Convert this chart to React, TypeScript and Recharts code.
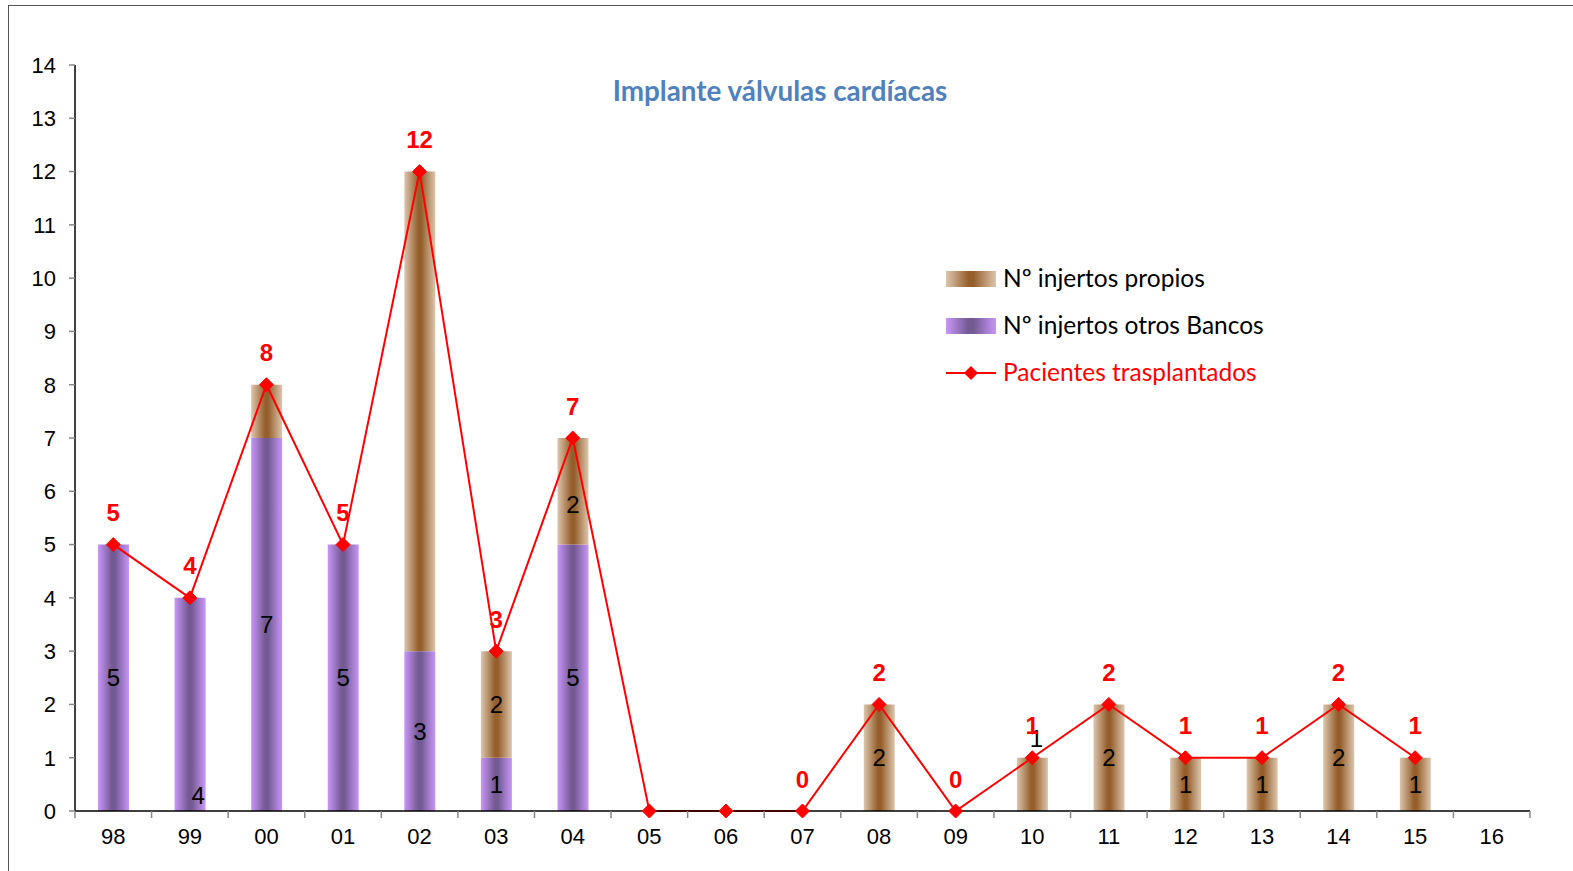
import React from 'react';
import {
  ComposedChart,
  Bar,
  Line,
  XAxis,
  YAxis,
  Legend,
  LabelList,
} from 'recharts';

const years = ['98', '99', '00', '01', '02', '03', '04', '05', '06', '07', '08', '09', '10', '11', '12', '13', '14', '15', '16'];
const otrosBancos = [5, 4, 7, 5, 3, 1, 5, 0, 0, 0, 0, 0, 0, 0, 0, 0, 0, 0, null];
const propios = [0, 0, 1, 0, 9, 2, 2, 0, 0, 0, 2, 0, 1, 2, 1, 1, 2, 1, null];
const pacientes = [5, 4, 8, 5, 12, 3, 7, 0, 0, 0, 2, 0, 1, 2, 1, 1, 2, 1, null];
// which labels the original shows
const showOtros = [true, true, true, true, true, true, true, false, false, false, false, false, false, false, false, false, false, false, false];
const showPropios = [false, false, false, false, false, true, true, false, false, false, true, false, true, true, true, true, true, true, false];
const showPacientes = [true, true, true, true, true, true, true, false, false, true, true, true, true, true, true, true, true, true, false];
const yTicks = [0, 1, 2, 3, 4, 5, 6, 7, 8, 9, 10, 11, 12, 13, 14];

const data = years.map((year, i) => ({
  year,
  otros: otrosBancos[i],
  propios: propios[i],
  pacientes: pacientes[i],
  i,
}));

const W = 1573;
const H = 871;
const margin = { top: 65, right: 43, bottom: 20, left: 15 };
const band = (W - margin.left - 60 - margin.right) / years.length;

const tickFont = { fontFamily: 'Liberation Sans, Arial, sans-serif', fontSize: 22, fill: '#000' };

const XTick = (props: any) => {
  const { x, y, payload, index } = props;
  const left = x - band / 2;
  return (
    <g>
      <line x1={left} y1={y} x2={left} y2={y + 7} stroke="#888" strokeWidth={1.5} />
      {index === years.length - 1 && (
        <line x1={left + band} y1={y} x2={left + band} y2={y + 7} stroke="#888" strokeWidth={1.5} />
      )}
      <text x={x} y={y + 33} textAnchor="middle" {...tickFont}>
        {payload.value}
      </text>
    </g>
  );
};

const Diamond = (props: any) => {
  const { cx, cy, payload } = props;
  if (payload.pacientes == null || cx == null) return null;
  const r = 7;
  return (
    <polygon
      points={`${cx},${cy - r} ${cx + r},${cy} ${cx},${cy + r} ${cx - r},${cy}`}
      fill="#ff0000"
      stroke="#ff0000"
    />
  );
};

// label value carries the whole row so we know which category it belongs to
const segmentLabel = (key: 'otros' | 'propios', show: boolean[], nudge: Record<number, [number, number]>) => (props: any) => {
  const { x, y, width, height, value } = props;
  if (!value || typeof value !== 'object') return null;
  const row = value;
  if (!show[row.i] || row[key] == null) return null;
  const [dx, dy] = nudge[row.i] || [0, 0];
  return (
    <text
      x={x + width / 2 + dx}
      y={y + height / 2 + dy}
      textAnchor="middle"
      dominantBaseline="central"
      fontFamily="Liberation Sans, Arial, sans-serif"
      fontSize={24}
      fill="#000"
    >
      {row[key]}
    </text>
  );
};

const pacientesLabel = (props: any) => {
  const { x, y, value } = props;
  if (!value || typeof value !== 'object') return null;
  const row = value;
  if (!showPacientes[row.i] || row.pacientes == null) return null;
  return (
    <text
      x={x}
      y={y - 32}
      textAnchor="middle"
      dominantBaseline="central"
      fontFamily="Liberation Sans, Arial, sans-serif"
      fontWeight="bold"
      fontSize={24}
      fill="#ff0000"
    >
      {row.pacientes}
    </text>
  );
};

const legendItems = [
  { label: 'Nº injertos propios', kind: 'propios', color: '#000' },
  { label: 'Nº injertos otros Bancos', kind: 'otros', color: '#000' },
  { label: 'Pacientes trasplantados', kind: 'line', color: '#ff0000' },
];

const LegendBox = () => (
  <div style={{ fontFamily: 'Lato, "Open Sans", sans-serif', fontSize: 24.5, lineHeight: 1 }}>
    {legendItems.map((item) => (
      <div key={item.kind} style={{ display: 'flex', alignItems: 'center', height: 47 }}>
        <svg width={57} height={20} style={{ flex: 'none' }}>
          {item.kind === 'line' ? (
            <g>
              <line x1={0} y1={10} x2={50} y2={10} stroke="#ff0000" strokeWidth={2} />
              <polygon points="25,3 32,10 25,17 18,10" fill="#ff0000" />
            </g>
          ) : (
            <rect x={0} y={2} width={50} height={16} fill={`url(#grad-${item.kind})`} />
          )}
        </svg>
        <span style={{ color: item.color, whiteSpace: 'nowrap' }}>{item.label}</span>
      </div>
    ))}
  </div>
);

const rowOf = (d: any) => d;

export default function App() {
  return (
    <div style={{ position: 'absolute', left: 0, top: 0, width: W, height: H, overflow: 'hidden', background: '#fff' }}>
      <div
        style={{
          position: 'absolute',
          left: 8,
          top: 5,
          width: W + 20,
          height: H + 20,
          border: '1.5px solid #555',
        }}
      />
      <div
        style={{
          position: 'absolute',
          left: 0,
          width: 1560,
          top: 74,
          textAlign: 'center',
          fontFamily: 'Lato, "Open Sans", sans-serif',
          fontWeight: 'bold',
          fontSize: 27.8,
          color: '#4f81bd',
        }}
      >
        Implante válvulas cardíacas
      </div>
      <svg width={0} height={0} style={{ position: 'absolute' }}>
        <defs>
          <linearGradient id="grad-otros" x1="0" y1="0" x2="1" y2="0">
            <stop offset="0%" stopColor="#c896f8" />
            <stop offset="45%" stopColor="#735a92" />
            <stop offset="55%" stopColor="#735a92" />
            <stop offset="100%" stopColor="#c896f8" />
          </linearGradient>
          <linearGradient id="grad-propios" x1="0" y1="0" x2="1" y2="0">
            <stop offset="0%" stopColor="#dcc6ae" />
            <stop offset="45%" stopColor="#955f2c" />
            <stop offset="55%" stopColor="#955f2c" />
            <stop offset="100%" stopColor="#dcc6ae" />
          </linearGradient>
        </defs>
      </svg>
      <div style={{ position: 'absolute', left: 0, top: 0 }}>
        <ComposedChart width={W} height={H} data={data} margin={margin} barCategoryGap={0}>
          <XAxis
            dataKey="year"
            interval={0}
            tickLine={false}
            tickSize={0}
            tickMargin={0}
            axisLine={{ stroke: '#000', strokeWidth: 1.5 }}
            tick={<XTick />}
            height={40}
          />
          <YAxis
            domain={[0, 14]}
            ticks={yTicks}
            interval={0}
            width={60}
            tickSize={6}
            tickMargin={13}
            axisLine={{ stroke: '#000', strokeWidth: 1.5 }}
            tickLine={{ stroke: '#888', strokeWidth: 1.5 }}
            tick={tickFont}
          />
          <Legend
            layout="horizontal"
            verticalAlign="middle"
            align="center"
            content={<LegendBox />}
            wrapperStyle={{ left: 946, top: 255, width: 420 }}
          />
          <Bar dataKey="otros" stackId="a" barSize={31} fill="url(#grad-otros)" isAnimationActive={false}>
            <LabelList dataKey={rowOf} content={segmentLabel('otros', showOtros, { 1: [8, 91] })} />
          </Bar>
          <Bar dataKey="propios" stackId="a" barSize={31} fill="url(#grad-propios)" isAnimationActive={false}>
            <LabelList dataKey={rowOf} content={segmentLabel('propios', showPropios, { 6: [0, 13], 12: [4, -46] })} />
          </Bar>
          <Line
            dataKey="pacientes"
            stroke="#ff0000"
            strokeWidth={2}
            dot={<Diamond />}
            activeDot={false}
            connectNulls={false}
            isAnimationActive={false}
          >
            <LabelList dataKey={rowOf} content={pacientesLabel} />
          </Line>
        </ComposedChart>
      </div>
    </div>
  );
}
